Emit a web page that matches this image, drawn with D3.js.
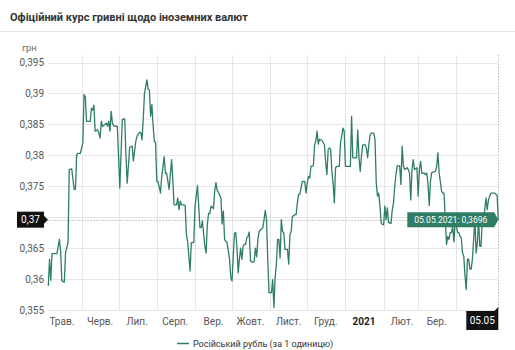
<!DOCTYPE html>
<html>
<head>
<meta charset="utf-8">
<script src="https://cdn.jsdelivr.net/npm/d3@7"></script>
<style>
  body { margin: 0; background: #fff; }
  svg { display: block; font-family: Roboto, "Noto Sans", sans-serif; }
</style>
</head>
<body>
<svg id="chart" width="515" height="350"></svg>
<script>
// Official UAH exchange rate for the Russian rouble (per 1 unit)
const titleText = "Офіційний курс гривні щодо іноземних валют";
const unitLabel = "грн";
const seriesName = "Російський рубль (за 1 одиницю)";

const dates = [
  "2020-05-05","2020-05-06","2020-05-07","2020-05-08","2020-05-12","2020-05-14","2020-05-15","2020-05-16",
  "2020-05-18","2020-05-19","2020-05-21","2020-05-22","2020-05-24","2020-05-26","2020-05-27","2020-05-28",
  "2020-05-29","2020-05-31","2020-06-02","2020-06-03","2020-06-04","2020-06-05","2020-06-08","2020-06-09",
  "2020-06-10","2020-06-11","2020-06-12","2020-06-14","2020-06-15","2020-06-16","2020-06-17","2020-06-18",
  "2020-06-19","2020-06-21","2020-06-22","2020-06-23","2020-06-24","2020-06-25","2020-06-26","2020-06-27",
  "2020-06-28","2020-06-30","2020-07-02","2020-07-04","2020-07-06","2020-07-07","2020-07-08","2020-07-10",
  "2020-07-12","2020-07-13","2020-07-15","2020-07-16","2020-07-18","2020-07-19","2020-07-20","2020-07-21",
  "2020-07-22","2020-07-24","2020-07-25","2020-07-26","2020-07-27","2020-07-28","2020-07-29","2020-07-30",
  "2020-07-31","2020-08-01","2020-08-02","2020-08-04","2020-08-05","2020-08-07","2020-08-08","2020-08-09",
  "2020-08-10","2020-08-11","2020-08-13","2020-08-14","2020-08-15","2020-08-17","2020-08-18","2020-08-19",
  "2020-08-20","2020-08-21","2020-08-22","2020-08-24","2020-08-25","2020-08-26","2020-08-28","2020-08-29",
  "2020-08-31","2020-09-01","2020-09-03","2020-09-04","2020-09-05","2020-09-06","2020-09-07","2020-09-09",
  "2020-09-10","2020-09-11","2020-09-12","2020-09-13","2020-09-14","2020-09-16","2020-09-17","2020-09-18",
  "2020-09-19","2020-09-20","2020-09-22","2020-09-23","2020-09-24","2020-09-25","2020-09-26","2020-09-27",
  "2020-09-29","2020-09-30","2020-10-01","2020-10-02","2020-10-03","2020-10-04","2020-10-05","2020-10-06",
  "2020-10-07","2020-10-08","2020-10-09","2020-10-10","2020-10-11","2020-10-12","2020-10-13","2020-10-14",
  "2020-10-15","2020-10-16","2020-10-18","2020-10-19","2020-10-20","2020-10-21","2020-10-22","2020-10-23",
  "2020-10-24","2020-10-26","2020-10-27","2020-10-28","2020-10-29","2020-10-30","2020-10-31","2020-11-02",
  "2020-11-03","2020-11-04","2020-11-05","2020-11-06","2020-11-07","2020-11-08","2020-11-09","2020-11-10",
  "2020-11-11","2020-11-12","2020-11-13","2020-11-15","2020-11-16","2020-11-17","2020-11-18","2020-11-19",
  "2020-11-21","2020-11-22","2020-11-23","2020-11-24","2020-11-25","2020-11-27","2020-11-29","2020-11-30",
  "2020-12-01","2020-12-02","2020-12-03","2020-12-04","2020-12-06","2020-12-07","2020-12-08","2020-12-09",
  "2020-12-10","2020-12-11","2020-12-12","2020-12-13","2020-12-15","2020-12-16","2020-12-17","2020-12-18",
  "2020-12-19","2020-12-20","2020-12-21","2020-12-22","2020-12-23","2020-12-24","2020-12-25","2020-12-27",
  "2020-12-28","2020-12-30","2020-12-31","2021-01-01","2021-01-03","2021-01-05","2021-01-06","2021-01-07",
  "2021-01-10","2021-01-11","2021-01-12","2021-01-13","2021-01-14","2021-01-15","2021-01-17","2021-01-18",
  "2021-01-19","2021-01-20","2021-01-21","2021-01-22","2021-01-24","2021-01-25","2021-01-26","2021-01-27",
  "2021-01-28","2021-01-29","2021-01-30","2021-01-31","2021-02-01","2021-02-02","2021-02-03","2021-02-04",
  "2021-02-05","2021-02-06","2021-02-07","2021-02-08","2021-02-09","2021-02-10","2021-02-11","2021-02-12",
  "2021-02-14","2021-02-15","2021-02-16","2021-02-17","2021-02-18","2021-02-20","2021-02-21","2021-02-22",
  "2021-02-23","2021-02-24","2021-02-25","2021-02-26","2021-02-28","2021-03-01","2021-03-02","2021-03-03",
  "2021-03-04","2021-03-06","2021-03-07","2021-03-08","2021-03-09","2021-03-10","2021-03-11","2021-03-12",
  "2021-03-13","2021-03-15","2021-03-16","2021-03-17","2021-03-18","2021-03-20","2021-03-21","2021-03-22",
  "2021-03-23","2021-03-24","2021-03-25","2021-03-26","2021-03-27","2021-03-28","2021-03-29","2021-03-30",
  "2021-03-31","2021-04-02","2021-04-03","2021-04-04","2021-04-05","2021-04-06","2021-04-07","2021-04-08",
  "2021-04-09","2021-04-10","2021-04-11","2021-04-12","2021-04-13","2021-04-14","2021-04-15","2021-04-16",
  "2021-04-17","2021-04-18","2021-04-19","2021-04-20","2021-04-21","2021-04-22","2021-04-23","2021-04-24",
  "2021-04-25","2021-04-26","2021-04-27","2021-04-29","2021-04-30","2021-05-02","2021-05-03","2021-05-04",
  "2021-05-05"
];

const rates = [
  0.3589,0.3632,0.3598,0.3641,0.3641,0.3664,0.3645,0.3597,
  0.3595,0.3643,0.3659,0.3777,0.3778,0.3745,0.3745,0.3801,
  0.3803,0.3803,0.3820,0.3898,0.3895,0.3855,0.3855,0.3876,
  0.3873,0.3881,0.3839,0.3841,0.3836,0.3828,0.3855,0.3847,
  0.3848,0.3852,0.3847,0.3855,0.3839,0.3871,0.3852,0.3848,
  0.3847,0.3847,0.3747,0.3858,0.3859,0.3798,0.3755,0.3813,
  0.3815,0.3791,0.3823,0.3831,0.3837,0.3837,0.3825,0.3858,
  0.3900,0.3922,0.3907,0.3906,0.3863,0.3882,0.3849,0.3823,
  0.3820,0.3758,0.3758,0.3739,0.3766,0.3798,0.3771,0.3771,
  0.3758,0.3745,0.3793,0.3761,0.3720,0.3720,0.3731,0.3712,
  0.3726,0.3720,0.3720,0.3719,0.3672,0.3661,0.3613,0.3659,
  0.3659,0.3718,0.3751,0.3718,0.3683,0.3683,0.3694,0.3653,
  0.3642,0.3689,0.3706,0.3706,0.3718,0.3714,0.3743,0.3756,
  0.3743,0.3740,0.3731,0.3689,0.3710,0.3664,0.3661,0.3659,
  0.3632,0.3602,0.3597,0.3637,0.3674,0.3675,0.3653,0.3610,
  0.3632,0.3650,0.3632,0.3653,0.3656,0.3656,0.3667,0.3669,
  0.3676,0.3629,0.3627,0.3629,0.3650,0.3636,0.3664,0.3677,
  0.3679,0.3683,0.3696,0.3711,0.3696,0.3632,0.3578,0.3578,
  0.3599,0.3554,0.3603,0.3624,0.3664,0.3664,0.3634,0.3696,
  0.3677,0.3675,0.3648,0.3648,0.3624,0.3672,0.3677,0.3701,
  0.3704,0.3704,0.3723,0.3737,0.3737,0.3758,0.3758,0.3739,
  0.3755,0.3766,0.3763,0.3782,0.3783,0.3817,0.3823,0.3839,
  0.3818,0.3826,0.3825,0.3824,0.3817,0.3788,0.3769,0.3809,
  0.3812,0.3810,0.3774,0.3755,0.3723,0.3780,0.3782,0.3782,
  0.3820,0.3844,0.3839,0.3782,0.3782,0.3782,0.3863,0.3796,
  0.3796,0.3841,0.3796,0.3774,0.3798,0.3817,0.3817,0.3812,
  0.3796,0.3817,0.3833,0.3836,0.3836,0.3825,0.3756,0.3734,
  0.3739,0.3718,0.3691,0.3688,0.3688,0.3718,0.3696,0.3715,
  0.3691,0.3691,0.3690,0.3712,0.3723,0.3750,0.3769,0.3783,
  0.3783,0.3753,0.3815,0.3783,0.3777,0.3780,0.3777,0.3771,
  0.3728,0.3777,0.3793,0.3777,0.3780,0.3734,0.3777,0.3790,
  0.3771,0.3771,0.3769,0.3771,0.3753,0.3719,0.3758,0.3772,
  0.3773,0.3774,0.3782,0.3804,0.3772,0.3742,0.3739,0.3739,
  0.3696,0.3656,0.3669,0.3664,0.3675,0.3675,0.3685,0.3660,
  0.3694,0.3675,0.3675,0.3669,0.3666,0.3642,0.3637,0.3605,
  0.3583,0.3632,0.3632,0.3616,0.3616,0.3632,0.3664,0.3696,
  0.3642,0.3659,0.3696,0.3653,0.3653,0.3696,0.3696,0.3712,
  0.3731,0.3712,0.3728,0.3739,0.3739,0.3739,0.3737,0.3736,
  0.3696
];

const yTicks = [0.355, 0.36, 0.365, 0.37, 0.375, 0.38, 0.385, 0.39, 0.395];
const monthNames = ["Січ.", "Лют.", "Бер.", "Квіт.", "Трав.", "Черв.", "Лип.", "Серп.", "Вер.", "Жовт.", "Лист.", "Груд."];
const periodStart = "2020-05-05";
const periodEnd = "2021-05-05";

const parseDate = d3.utcParse("%Y-%m-%d");
const data = dates.map((d, i) => ({ date: parseDate(d), value: rates[i] }));

const uaLocale = d3.formatLocale({ decimal: ",", thousands: " ", grouping: [3], currency: ["", " грн"] });
const fmtTick = uaLocale.format(".3~f");
const fmtCross = uaLocale.format(".2f");
const fmtValue = uaLocale.format(".4f");
const fmtDateFull = d3.utcFormat("%d.%m.%Y");
const fmtDateShort = d3.utcFormat("%d.%m");

const W = 515, H = 350;
const plot = { left: 48.3, right: 498.3, top: 55, bottom: 310 };
const lineColor = "#2f7d66";

const svg = d3.select("#chart");

const x = d3.scaleUtc()
  .domain([parseDate(periodStart), parseDate(periodEnd)])
  .range([plot.left, plot.right]);
const y = d3.scaleLinear()
  .domain([0.355, 0.395])
  .range([310, 62.5]);

const last = data[data.length - 1];
const cx = x(last.date), cy = y(last.value);

// Header
svg.append("text")
  .attr("x", 10).attr("y", 21)
  .attr("font-size", 11).attr("font-weight", 700).attr("fill", "#333")
  .text(titleText);
svg.append("line")
  .attr("x1", 0).attr("x2", W).attr("y1", 31.5).attr("y2", 31.5)
  .attr("stroke", "#e4e4e4").attr("stroke-width", 1);

svg.append("text")
  .attr("x", 22).attr("y", 51)
  .attr("font-size", 9.5).attr("fill", "#666")
  .text(unitLabel);

// Horizontal grid and y labels (the label under the crosshair box is hidden)
const yAxis = svg.append("g");
yAxis.selectAll("line.grid").data(yTicks).join("line")
  .attr("class", "grid")
  .attr("x1", plot.left).attr("x2", plot.right)
  .attr("y1", d => Math.round(y(d)) + 0.5).attr("y2", d => Math.round(y(d)) + 0.5)
  .attr("stroke", "#e6e6e6");
yAxis.selectAll("text").data(yTicks.filter(d => Math.abs(y(d) - cy) > 10)).join("text")
  .attr("x", 44).attr("y", d => y(d) + 3.5)
  .attr("text-anchor", "end")
  .attr("font-size", 10).attr("fill", "#555")
  .text(d => fmtTick(d));

// Vertical grid at month boundaries
const [d0, d1] = x.domain();
const monthStarts = d3.utcMonth.range(d3.utcMonth.ceil(d0), d3.utcMonth.floor(d1));
svg.append("g").selectAll("line").data(monthStarts).join("line")
  .attr("x1", d => Math.round(x(d)) + 0.5).attr("x2", d => Math.round(x(d)) + 0.5)
  .attr("y1", plot.top).attr("y2", plot.bottom)
  .attr("stroke", "#e6e6e6");

// Crosshair lines for the last observation
const crossLines = svg.append("g");
crossLines.append("line")
  .attr("x1", plot.left).attr("x2", plot.right)
  .attr("y1", Math.round(cy) + 0.5).attr("y2", Math.round(cy) + 0.5)
  .attr("stroke", "#bbb").attr("stroke-dasharray", "1.5,1.5");
crossLines.append("line")
  .attr("x1", Math.round(cx) + 0.5).attr("x2", Math.round(cx) + 0.5)
  .attr("y1", plot.top).attr("y2", plot.bottom)
  .attr("stroke", "#bbb").attr("stroke-dasharray", "1.5,1.5");

// Rate line
svg.append("path")
  .datum(data)
  .attr("fill", "none")
  .attr("stroke", lineColor)
  .attr("stroke-width", 1.3)
  .attr("stroke-linejoin", "round")
  .attr("d", d3.line().x(d => x(d.date)).y(d => y(d.value)));

// X labels at mid-month; the crosshair date box hides neighbours
const boxW = 32;
const dateBoxLeft = cx - boxW;
const labelDates = d3.utcMonth.range(d3.utcMonth.floor(d0), d1)
  .map(m => d3.utcDay.offset(m, 15))
  .filter(d => d >= d0 && d <= d1);
svg.append("g").selectAll("text")
  .data(labelDates.filter(d => x(d) + 11 < dateBoxLeft))
  .join("text")
  .attr("x", d => x(d)).attr("y", 325)
  .attr("text-anchor", "middle")
  .attr("font-size", 10)
  .attr("font-weight", d => d.getUTCMonth() === 0 ? 700 : 400)
  .attr("fill", d => d.getUTCMonth() === 0 ? "#222" : "#555")
  .text(d => d.getUTCMonth() === 0 ? String(d.getUTCFullYear()) : monthNames[d.getUTCMonth()]);

// Date box on the x axis
const xb = svg.append("g");
xb.append("rect")
  .attr("x", dateBoxLeft).attr("y", 311).attr("width", boxW).attr("height", 19)
  .attr("fill", "#111");
xb.append("path")
  .attr("d", `M${cx - 4},311 L${cx},307 L${cx},311 Z`)
  .attr("fill", "#111");
xb.append("text")
  .attr("x", dateBoxLeft + boxW / 2).attr("y", 324)
  .attr("text-anchor", "middle").attr("font-size", 10).attr("fill", "#fff")
  .text(fmtDateShort(last.date));

// Value box on the y axis
const yb = svg.append("g");
yb.append("rect")
  .attr("x", 17).attr("y", cy - 8).attr("width", 27).attr("height", 16)
  .attr("fill", "#111");
yb.append("path")
  .attr("d", `M44,${cy - 4} L48,${cy} L44,${cy + 4} Z`)
  .attr("fill", "#111");
yb.append("text")
  .attr("x", 30.5).attr("y", cy + 3.5)
  .attr("text-anchor", "middle").attr("font-size", 10).attr("fill", "#fff")
  .text(fmtCross(last.value));

// Tooltip for the last value, drawn above the line
const tip = svg.append("g");
const tipText = `${fmtDateFull(last.date)}: ${fmtValue(last.value)}`;
const tipW = 87, tipH = 15;
tip.append("path")
  .attr("d", `M${cx - 4 - tipW},${cy - tipH / 2} H${cx - 4} L${cx},${cy} L${cx - 4},${cy + tipH / 2} H${cx - 4 - tipW} Z`)
  .attr("fill", lineColor);
tip.append("text")
  .attr("x", cx - 4 - tipW / 2).attr("y", cy + 3)
  .attr("text-anchor", "middle").attr("font-size", 8.6).attr("fill", "#fff")
  .text(tipText);

// Legend
const lg = svg.append("g");
lg.append("line")
  .attr("x1", 177).attr("x2", 189).attr("y1", 343.5).attr("y2", 343.5)
  .attr("stroke", lineColor).attr("stroke-width", 1.5);
lg.append("text")
  .attr("x", 193).attr("y", 347)
  .attr("font-size", 9).attr("fill", "#333")
  .text(seriesName);
</script>
</body>
</html>
